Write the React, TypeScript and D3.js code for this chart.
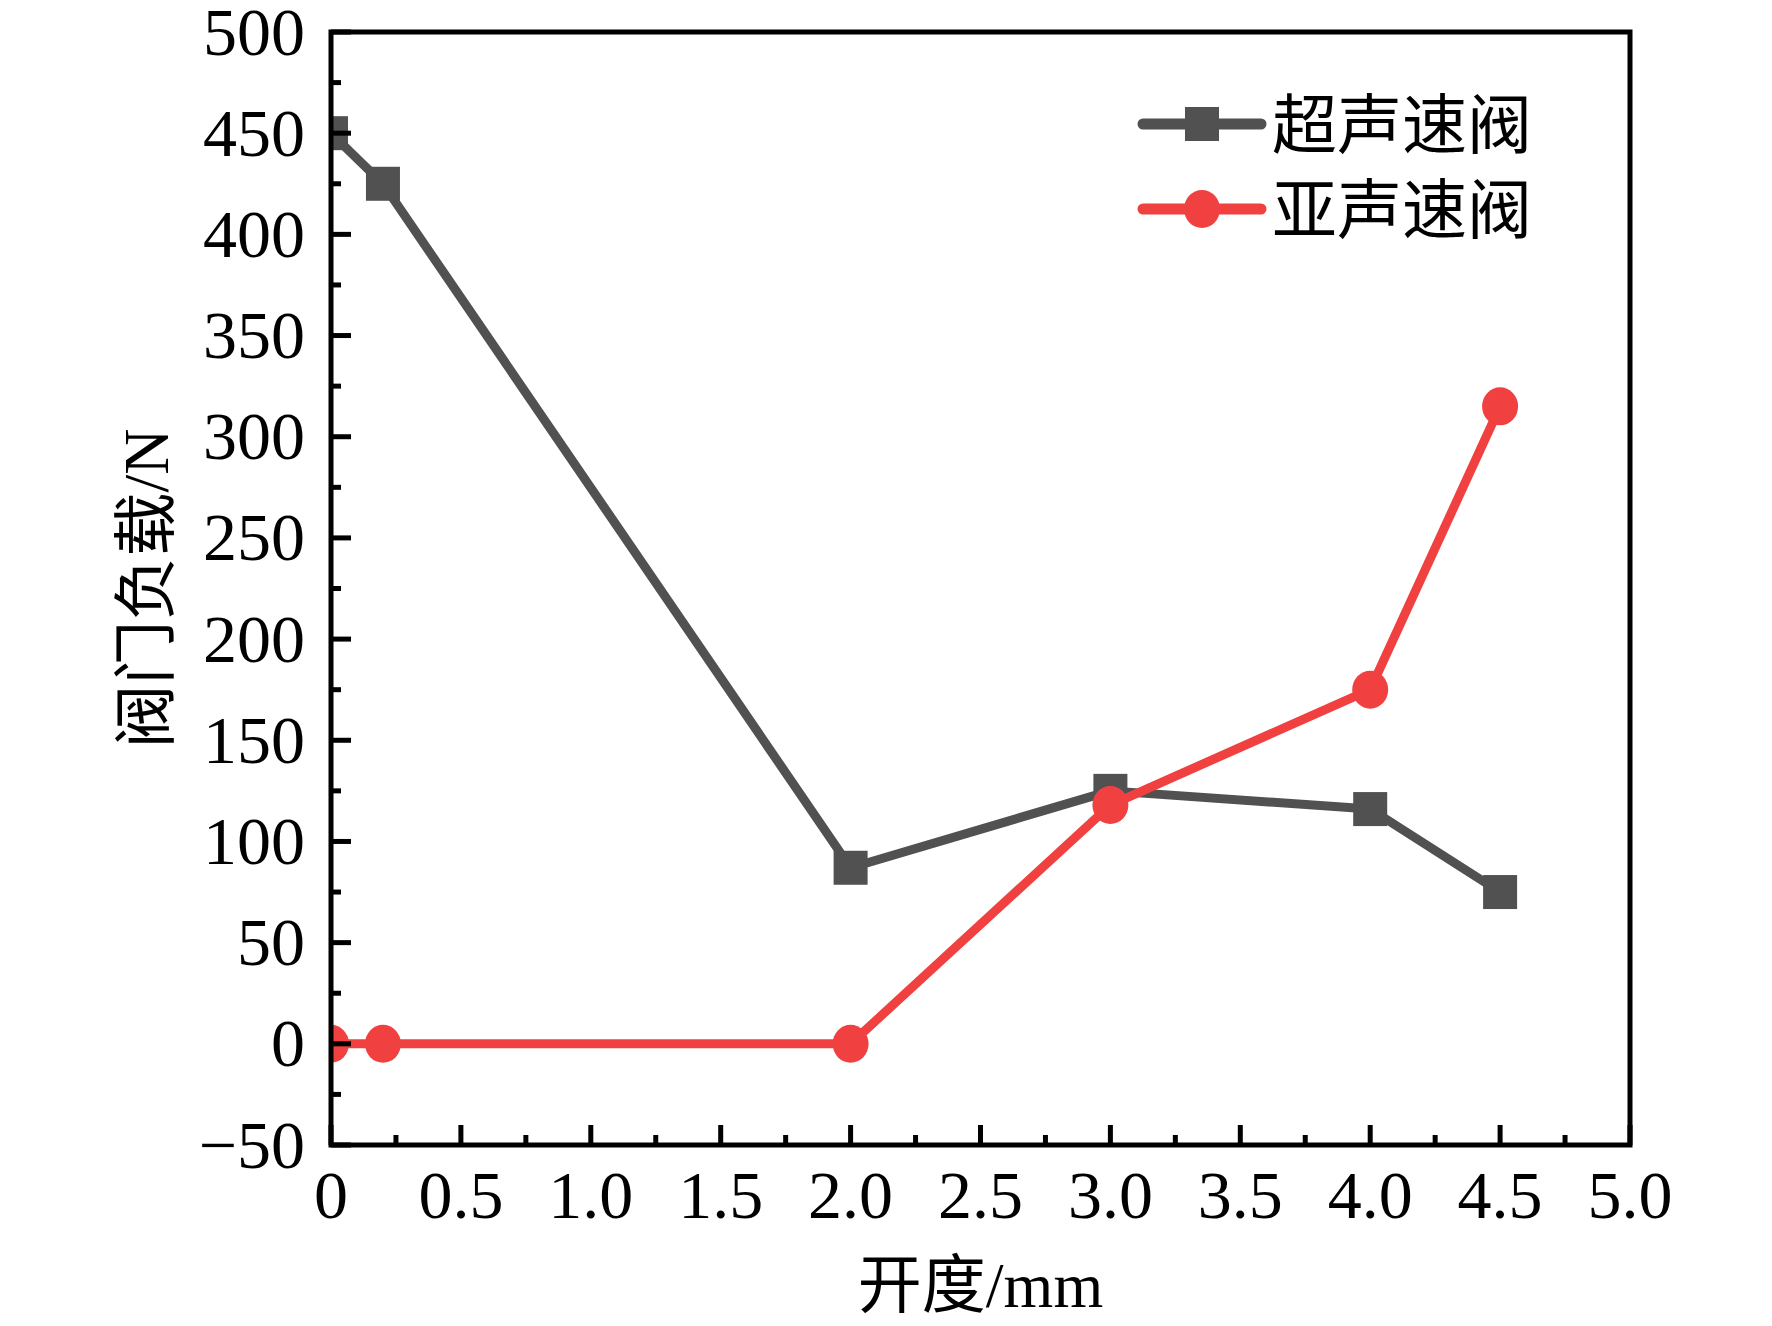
import React, { useEffect } from "react";
import * as d3 from "d3";

const openings = [0, 0.2, 2.0, 3.0, 4.0, 4.5];
const supersonicLoad = [450, 425, 87, 125, 116, 75];
const subsonicLoad = [0, 0, 0, 118, 175, 315];
const seriesNames = ["超声速阀", "亚声速阀"];
const seriesColors = ["#515151", "#F14040"];
const xTicks = [0, 0.5, 1.0, 1.5, 2.0, 2.5, 3.0, 3.5, 4.0, 4.5, 5.0];
const xTickLabels = ["0", "0.5", "1.0", "1.5", "2.0", "2.5", "3.0", "3.5", "4.0", "4.5", "5.0"];
const yTicks = [-50, 0, 50, 100, 150, 200, 250, 300, 350, 400, 450, 500];
const yTickLabels = ["−50", "0", "50", "100", "150", "200", "250", "300", "350", "400", "450", "500"];
const xMinorTicks = [0.25, 0.75, 1.25, 1.75, 2.25, 2.75, 3.25, 3.75, 4.25, 4.75];
const yMinorTicks = [-25, 25, 75, 125, 175, 225, 275, 325, 375, 425, 475];
const xTitle = "开度/mm";
const yTitle = "阀门负载/N";

const W = 1772;
const H = 1326;
const L = 331, R = 1630, T = 32, B = 1145;
const FONT = "'Liberation Serif', 'Times New Roman', 'Noto Sans CJK SC', serif";

export default function App() {
  useEffect(() => {
    document.body.style.margin = "0";
  }, []);

  const x = d3.scaleLinear().domain([0, 5]).range([L, R]);
  const y = d3.scaleLinear().domain([-50, 500]).range([B, T]);

  const data = [supersonicLoad, subsonicLoad].map((vals) =>
    openings.map((o, i) => [o, vals[i]] as [number, number])
  );
  const line = d3
    .line<[number, number]>()
    .x((d) => x(d[0]))
    .y((d) => y(d[1]));

  const lw = 9;
  const sq = 34;
  const cr = 18;
  const major = 20;
  const minor = 10;
  const axW = 5;

  const marker = (k: number, cx: number, cy: number, key: string) =>
    k === 0 ? (
      <rect key={key} x={cx - sq / 2} y={cy - sq / 2} width={sq} height={sq} fill={seriesColors[0]} />
    ) : (
      <ellipse key={key} cx={cx} cy={cy} rx={cr} ry={cr + 1} fill={seriesColors[1]} />
    );

  const legendY = [124, 209];

  return (
    <svg
      width={W}
      height={H}
      viewBox={`0 0 ${W} ${H}`}
      style={{ display: "block", position: "absolute", left: 0, top: 0, background: "#fff" }}
    >
      <defs>
        <clipPath id="plotClip">
          <rect x={L} y={T} width={R - L} height={B - T} />
        </clipPath>
      </defs>
      <rect x={0} y={0} width={W} height={H} fill="#fff" />

      <g clipPath="url(#plotClip)">
        {data.map((d, k) => (
          <g key={k}>
            <path
              d={line(d) || ""}
              fill="none"
              stroke={seriesColors[k]}
              strokeWidth={lw}
              strokeLinejoin="round"
              strokeLinecap="round"
            />
            {d.map((p, i) => marker(k, x(p[0]), y(p[1]), `m${k}-${i}`))}
          </g>
        ))}
      </g>

      {/* axes box */}
      <rect x={L} y={T} width={R - L} height={B - T} fill="none" stroke="#000" strokeWidth={axW} />

      {/* y ticks */}
      {yTicks.map((t) => (
        <line key={`yt${t}`} x1={L} x2={L + major} y1={y(t)} y2={y(t)} stroke="#000" strokeWidth={axW} />
      ))}
      {yMinorTicks.map((t) => (
        <line key={`ym${t}`} x1={L} x2={L + minor} y1={y(t)} y2={y(t)} stroke="#000" strokeWidth={axW} />
      ))}
      {/* x ticks */}
      {xTicks.map((t) => (
        <line key={`xt${t}`} x1={x(t)} x2={x(t)} y1={B} y2={B - major} stroke="#000" strokeWidth={axW} />
      ))}
      {xMinorTicks.map((t) => (
        <line key={`xm${t}`} x1={x(t)} x2={x(t)} y1={B} y2={B - minor} stroke="#000" strokeWidth={axW} />
      ))}

      {/* tick labels */}
      <g fontFamily={FONT} fontSize={68} fill="#000">
        {yTicks.map((t, i) => (
          <text key={`yl${t}`} x={305} y={y(t) + 22.5} textAnchor="end">
            {yTickLabels[i]}
          </text>
        ))}
        {xTicks.map((t, i) => (
          <text key={`xl${t}`} x={x(t)} y={1218} textAnchor="middle">
            {xTickLabels[i]}
          </text>
        ))}
      </g>

      {/* axis titles */}
      <text x={(L + R) / 2} y={1307} textAnchor="middle" fontFamily={FONT} fontSize={64} fill="#000">
        {xTitle}
      </text>
      <text
        transform={`translate(168, ${(T + B) / 2}) rotate(-90)`}
        textAnchor="middle"
        fontFamily={FONT}
        fontSize={64}
        fill="#000"
      >
        {yTitle}
      </text>

      {/* legend */}
      {seriesNames.map((name, k) => (
        <g key={`lg${k}`}>
          <line
            x1={1143}
            x2={1261}
            y1={legendY[k]}
            y2={legendY[k]}
            stroke={seriesColors[k]}
            strokeWidth={lw + 2}
            strokeLinecap="round"
          />
          {marker(k, 1202, legendY[k], `lm${k}`)}
          <text x={1272} y={legendY[k] + 24} fontFamily={FONT} fontSize={65} fill="#000">
            {name}
          </text>
        </g>
      ))}
    </svg>
  );
}
